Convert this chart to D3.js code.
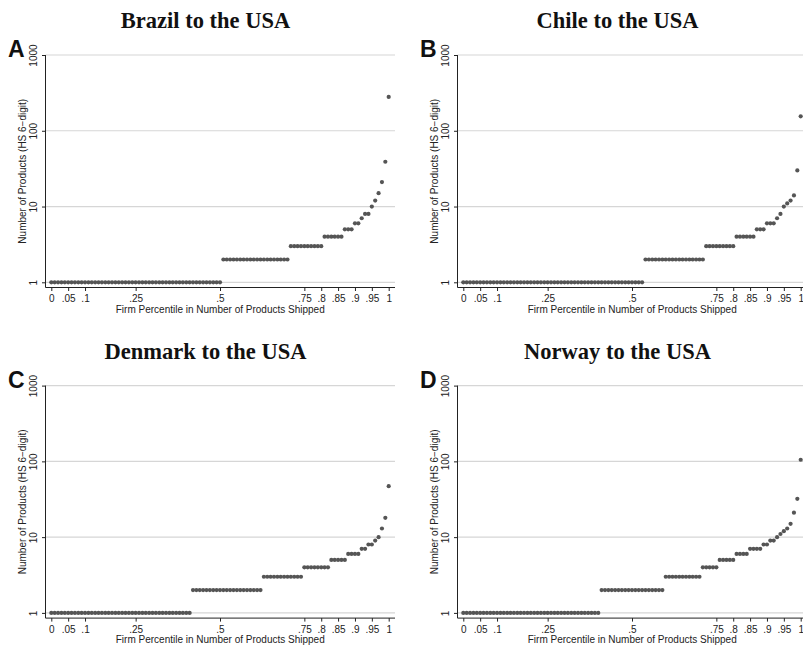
<!DOCTYPE html>
<html>
<head>
<meta charset="utf-8">
<script src="https://cdn.jsdelivr.net/npm/d3@7"></script>
<style>
  html, body { margin: 0; padding: 0; background: #fff; }
  svg { display: block; }
</style>
</head>
<body>
<svg id="chart" width="803" height="646"></svg>
<script>
// Firm percentiles 0, .01, ..., 1.00
const percentiles = d3.range(101).map(i => +(i / 100).toFixed(2));

const panelLetters = ["A", "B", "C", "D"];
const panelTitles = ["Brazil to the USA", "Chile to the USA", "Denmark to the USA", "Norway to the USA"];

// Number of products at each percentile
const brazil = [
  1,1,1,1,1,1,1,1,1,1,
  1,1,1,1,1,1,1,1,1,1,
  1,1,1,1,1,1,1,1,1,1,
  1,1,1,1,1,1,1,1,1,1,
  1,1,1,1,1,1,1,1,1,1,
  1,2,2,2,2,2,2,2,2,2,
  2,2,2,2,2,2,2,2,2,2,
  2,3,3,3,3,3,3,3,3,3,
  3,4,4,4,4,4,4,5,5,5,
  6,6,7,8,8,10,12,15,21,39,
  280
];
const chile = [
  1,1,1,1,1,1,1,1,1,1,
  1,1,1,1,1,1,1,1,1,1,
  1,1,1,1,1,1,1,1,1,1,
  1,1,1,1,1,1,1,1,1,1,
  1,1,1,1,1,1,1,1,1,1,
  1,1,1,1,2,2,2,2,2,2,
  2,2,2,2,2,2,2,2,2,2,
  2,2,3,3,3,3,3,3,3,3,
  3,4,4,4,4,4,4,5,5,5,
  6,6,6,7,8,10,11,12,14,30,
  155
];
const denmark = [
  1,1,1,1,1,1,1,1,1,1,
  1,1,1,1,1,1,1,1,1,1,
  1,1,1,1,1,1,1,1,1,1,
  1,1,1,1,1,1,1,1,1,1,
  1,1,2,2,2,2,2,2,2,2,
  2,2,2,2,2,2,2,2,2,2,
  2,2,2,3,3,3,3,3,3,3,
  3,3,3,3,3,4,4,4,4,4,
  4,4,4,5,5,5,5,5,6,6,
  6,6,7,7,8,8,9,10,13,18,
  47
];
const norway = [
  1,1,1,1,1,1,1,1,1,1,
  1,1,1,1,1,1,1,1,1,1,
  1,1,1,1,1,1,1,1,1,1,
  1,1,1,1,1,1,1,1,1,1,
  1,2,2,2,2,2,2,2,2,2,
  2,2,2,2,2,2,2,2,2,2,
  3,3,3,3,3,3,3,3,3,3,
  3,4,4,4,4,4,5,5,5,5,
  5,6,6,6,6,7,7,7,7,8,
  8,9,9,10,11,12,13,15,21,32,
  105
];

const xTickValues = [0, 0.05, 0.1, 0.25, 0.5, 0.75, 0.8, 0.85, 0.9, 0.95, 1];
const xTickLabels = ["0", ".05", ".1", ".25", ".5", ".75", ".8", ".85", ".9", ".95", "1"];
const yTickValues = [1, 10, 100, 1000];
const yTickLabels = ["1", "10", "100", "1000"];

const xTitle = "Firm Percentile in Number of Products Shipped";
const yTitle = "Number of Products (HS 6\u2212digit)";

const seriesList = [brazil, chile, denmark, norway];

const svg = d3.select("#chart");
const sans = "'Liberation Sans', Arial, sans-serif";
const serif = "'Liberation Serif', 'Times New Roman', serif";

// Layout of one panel (local coordinates)
const axisX = 45.5;       // y-axis line
const plotRight = 395;
const axisBottom = 287.5; // x-axis line
const x = d3.scaleLinear().domain([0, 1]).range([51.3, 388.7]);
const y = d3.scaleLog().domain([1, 1000]).range([282.3, 55]);

const offsets = [[0, 0], [412, 0], [0, 330.6], [412, 330.6]];

seriesList.forEach((series, k) => {
  const g = svg.append("g").attr("transform", `translate(${offsets[k][0]},${offsets[k][1]})`);

  // Title
  g.append("text")
    .attr("x", 205.5).attr("y", 28)
    .attr("text-anchor", "middle")
    .attr("font-family", serif).attr("font-weight", "bold")
    .attr("font-size", 22.5).attr("fill", "#111")
    .text(panelTitles[k]);

  // Panel letter
  g.append("text")
    .attr("x", 8).attr("y", 57)
    .attr("font-family", sans).attr("font-weight", "bold")
    .attr("font-size", 23).attr("fill", "#111")
    .text(panelLetters[k]);

  // Gridlines
  g.selectAll("line.grid").data(yTickValues).join("line")
    .attr("class", "grid")
    .attr("x1", axisX).attr("x2", plotRight)
    .attr("y1", d => y(d)).attr("y2", d => y(d))
    .attr("stroke", "#d6d6d6").attr("stroke-width", 1.2);

  // Y axis
  const yAxis = d3.axisLeft(y).tickValues(yTickValues)
    .tickFormat((d, i) => yTickLabels[i]).tickSize(3.5).tickSizeOuter(0);
  const yg = g.append("g").attr("transform", `translate(${axisX},0)`).call(yAxis);
  yg.select(".domain").remove();
  yg.selectAll(".tick line").attr("stroke", "#222");
  yg.selectAll(".tick text")
    .attr("font-family", sans).attr("font-size", 10).attr("fill", "#222")
    .attr("transform", "rotate(-90)")
    .attr("x", 0).attr("y", -9).attr("dy", 0)
    .attr("text-anchor", "middle");
  g.append("line")
    .attr("x1", axisX).attr("x2", axisX)
    .attr("y1", y(1000)).attr("y2", axisBottom)
    .attr("stroke", "#222").attr("stroke-width", 1);

  // X axis
  const xAxis = d3.axisBottom(x).tickValues(xTickValues)
    .tickFormat((d, i) => xTickLabels[i]).tickSize(3.5).tickSizeOuter(0);
  const xg = g.append("g").attr("transform", `translate(0,${axisBottom})`).call(xAxis);
  xg.select(".domain").remove();
  xg.selectAll(".tick line").attr("stroke", "#222");
  xg.selectAll(".tick text")
    .attr("font-family", sans).attr("font-size", 10).attr("fill", "#222")
    .attr("y", 14.5).attr("dy", 0);
  g.append("line")
    .attr("x1", axisX).attr("x2", plotRight)
    .attr("y1", axisBottom).attr("y2", axisBottom)
    .attr("stroke", "#222").attr("stroke-width", 1);

  // Axis titles
  g.append("text")
    .attr("x", (axisX + plotRight) / 2).attr("y", 312.5)
    .attr("text-anchor", "middle")
    .attr("font-family", sans).attr("font-size", 10).attr("fill", "#222")
    .text(xTitle);
  g.append("text")
    .attr("transform", `translate(26.3,${(y(1000) + axisBottom) / 2}) rotate(-90)`)
    .attr("text-anchor", "middle")
    .attr("font-family", sans).attr("font-size", 10).attr("fill", "#222")
    .text(yTitle);

  // Dots
  g.selectAll("circle.dot").data(series).join("circle")
    .attr("class", "dot")
    .attr("cx", (d, i) => x(percentiles[i]))
    .attr("cy", d => y(d))
    .attr("r", 2.1)
    .attr("fill", "#555555");
});
</script>
</body>
</html>
